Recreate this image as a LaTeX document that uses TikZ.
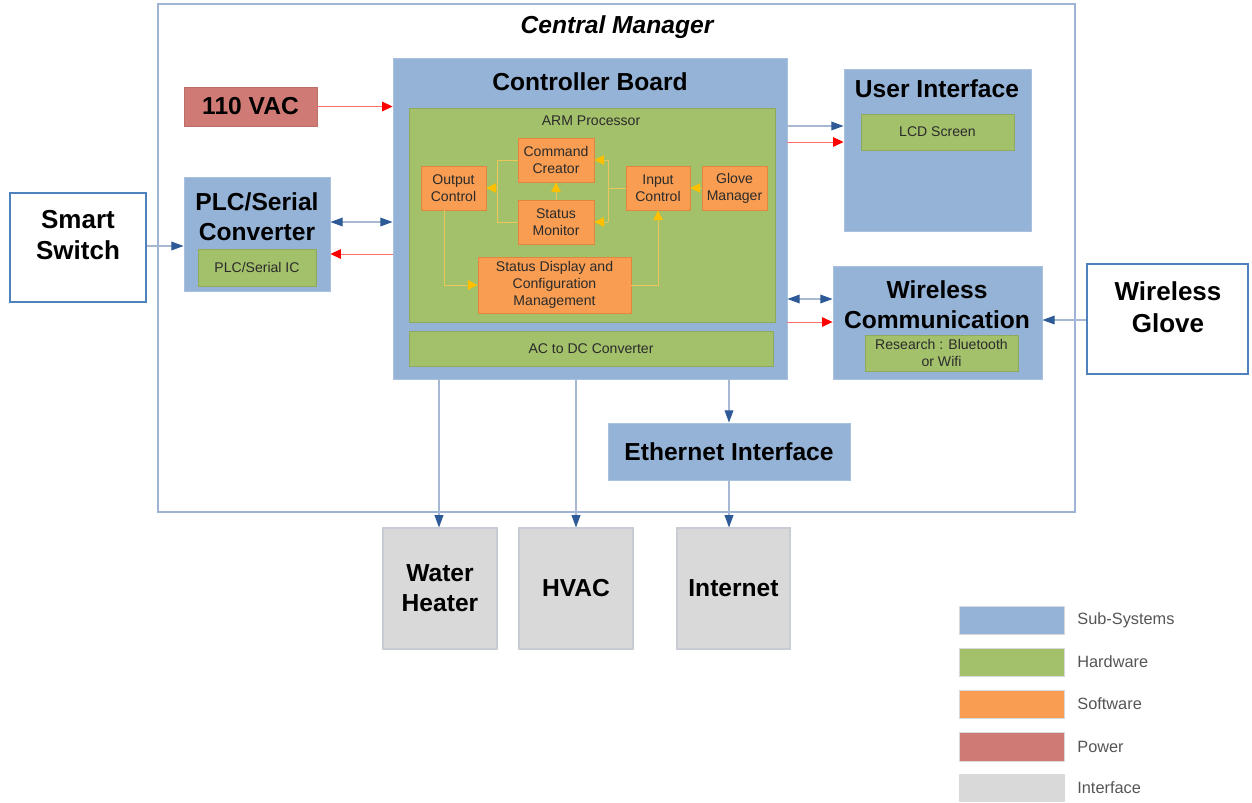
\documentclass[tikz,border=0pt]{standalone}
\usepackage{fontspec}
\setmainfont{Liberation Sans}
\usetikzlibrary{arrows.meta}
\definecolor{subsys}{HTML}{95B3D7}
\definecolor{subsysline}{HTML}{A9C0DE}
\definecolor{hwc}{HTML}{A3C06B}
\definecolor{hwline}{HTML}{8FAA5C}
\definecolor{swc}{HTML}{F89D52}
\definecolor{swline}{HTML}{E0863E}
\definecolor{pwc}{HTML}{D07A76}
\definecolor{ifc}{HTML}{D9D9D9}
\definecolor{ifline}{HTML}{C8CCD4}
\definecolor{extline}{HTML}{4F81BD}
\definecolor{cmline}{HTML}{9FB4D4}
\definecolor{bline}{HTML}{A6B8D2}
\definecolor{bhead}{HTML}{2E5B97}
\definecolor{rline}{HTML}{FF6B6B}
\definecolor{rhead}{HTML}{FF0000}
\definecolor{yline}{HTML}{E9C75A}
\definecolor{yhead}{HTML}{FFC000}
\definecolor{smalltxt}{HTML}{2B2B2B}
\definecolor{legtxt}{HTML}{555555}
\begin{document}
\begin{tikzpicture}[x=0.02cm,y=-0.02cm,
  rect/.style args={#1,#2,#3,#4}{rectangle, inner sep=0pt, minimum width={(#3-#1)*0.02cm}, minimum height={(#4-#2)*0.02cm}, at={({(#1+#3)/2},{(#2+#4)/2})}},
  sub/.style={fill=subsys, draw=subsysline, line width=0.5pt},
  hw/.style={fill=hwc, draw=hwline, line width=0.5pt, align=center, text=smalltxt, font=\fontsize{8}{9.6}\selectfont},
  sw/.style={fill=swc, draw=swline, line width=0.5pt, align=center, text=smalltxt, font=\fontsize{8}{9.6}\selectfont},
  pw/.style={fill=pwc, draw=pwc!90!black, line width=0.4pt, font=\bfseries\fontsize{14}{17}\selectfont},
  ifbox/.style={fill=ifc, draw=ifline, line width=0.6pt, align=center, font=\bfseries\fontsize{14}{17}\selectfont},
  ext/.style={fill=white, draw=extline, line width=1.1pt},
  big/.style={font=\bfseries\fontsize{14}{17}\selectfont, align=center, inner sep=0pt},
  extt/.style={font=\bfseries\fontsize{14.8}{18}\selectfont, align=center, inner sep=0pt},
  small/.style={font=\fontsize{8}{9.6}\selectfont, text=smalltxt, inner sep=0pt},
  bluearr/.style={draw=bline, line width=0.6pt, -{Triangle[length=7pt,width=5pt,color=bhead]}},
  bluedbl/.style={draw=bline, line width=0.6pt, {Triangle[length=7pt,width=5pt,color=bhead]}-{Triangle[length=7pt,width=5pt,color=bhead]}},
  redarr/.style={draw=rline, line width=0.5pt, -{Triangle[length=6pt,width=5.5pt,color=rhead]}},
  yl/.style={draw=yline, line width=0.5pt},
  yelarr/.style={draw=yline, line width=0.5pt, -{Triangle[length=5.5pt,width=5.5pt,color=yhead]}},
  legbox/.style={draw=white!85!black, line width=0.4pt},
  legtext/.style={font=\fontsize{9.3}{11}\selectfont, text=legtxt, anchor=west, inner sep=0pt}
]
\useasboundingbox (0,0) rectangle (1252,802);

% Central Manager
\node[draw=cmline, line width=1.1pt, rect={158,4,1075,512}] (CM) {};
\node[big] (CMt) at (617,27) {\itshape Central Manager};

% Controller board
\node[sub, rect={393,58,787,379}] (CB) {};
\node[big] (CBt) at (590,82) {Controller Board};
\node[hw, rect={409,108,775,322}] (ARM) {};
\node[small] (ARMt) at (591,121) {ARM Processor};
\node[hw, rect={409,331,773,366}] (ACDC) {AC to DC Converter};

% software blocks
\node[sw, rect={518,138,594,182}] (CC) {Command\\Creator};
\node[sw, rect={421,166,486,210}] (OC) {Output\\Control};
\node[sw, rect={518,200,594,244}] (SM) {Status\\Monitor};
\node[sw, rect={626,166,690,210}] (IC) {Input\\Control};
\node[sw, rect={702,166,767,210}] (GM) {Glove\\Manager};
\node[sw, rect={478,257,631,313}] (SD) {Status Display and\\Configuration\\Management};

% software connectors
\coordinate (fr) at (608,188);
\coordinate (frT) at (608,160);
\coordinate (frB) at (608,222);
\coordinate (fl) at (497,188);
\coordinate (flT) at (497,160);
\coordinate (flB) at (497,222);
\coordinate (ocb) at (444,210);
\coordinate (ocd) at (444,285);
\coordinate (sdr) at (658,285);
\draw[yelarr] (GM.west) -- (IC.east);
\draw[yl] (IC.west) -- (fr);
\draw[yl] (frT) -- (frB);
\draw[yelarr] (frT) -- (CC.east);
\draw[yelarr] (frB) -- (SM.east);
\draw[yelarr] (SM.north) -- (CC.south);
\draw[yl] (CC.west) -- (flT) -- (flB) -- (SM.west);
\draw[yelarr] (fl) -- (OC.east);
\draw[yelarr] (ocb) -- (ocd) -- (SD.west);
\draw[yelarr] (SD.east) -- (sdr) -- (IC.south);

% power
\node[pw, rect={184,87,317,126}] (VAC) {110 VAC};
\draw[redarr] (VAC.east) -- (VAC.east -| CB.west);

% PLC
\node[sub, rect={184,177,330,291}] (PLC) {};
\node[big] (PLCt) at (257,217) {PLC/Serial\\Converter};
\node[hw, rect={198,249,316,286}] (PLCic) {PLC/Serial IC};
\draw[bluedbl] (PLC.east |- 0,222) -- (CB.west |- 0,222);
\draw[redarr] (CB.west |- 0,254) -- (PLC.east |- 0,254);

% Smart switch
\node[ext, rect={10,193,146,302}] (SS) {};
\node[extt] (SSt) at (78,235) {Smart\\Switch};
\draw[bluearr] (SS.east |- 0,246) -- (PLC.west |- 0,246);

% User interface
\node[sub, rect={844,69,1031,231}] (UI) {};
\node[big] (UIt) at (937,89) {User Interface};
\node[hw, rect={861,114,1014,150}] (LCD) {LCD Screen};
\draw[bluearr] (CB.east |- 0,126) -- (UI.west |- 0,126);
\draw[redarr] (CB.east |- 0,142) -- (UI.west |- 0,142);

% Wireless communication
\node[sub, rect={833,266,1042,379}] (WC) {};
\node[big] (WCt) at (937,305) {Wireless\\Communication};
\node[hw, rect={865,335,1018,371}] (BT) {Research : Bluetooth\\or Wifi};
\draw[bluedbl] (CB.east |- 0,299) -- (WC.west |- 0,299);
\draw[redarr] (CB.east |- 0,322) -- (WC.west |- 0,322);

% Wireless glove
\node[ext, rect={1087,264,1248,374}] (WG) {};
\node[extt] (WGt) at (1168,307) {Wireless\\Glove};
\draw[bluearr] (WG.west |- 0,320) -- (WC.east |- 0,320);

% Ethernet
\node[sub, big, rect={608,423,850,480}] (ETH) {Ethernet Interface};
\draw[bluearr] (CB.south -| 729,0) -- (ETH.north -| 729,0);

% Interfaces
\node[ifbox, rect={383,528,497,649}] (WH) {Water\\Heater};
\node[ifbox, rect={519,528,633,649}] (HV) {HVAC};
\node[ifbox, rect={677,528,790,649}] (INT) {Internet};
\draw[bluearr] (CB.south -| 439,0) -- (WH.north -| 439,0);
\draw[bluearr] (CB.south -| 576,0) -- (HV.north -| 576,0);
\draw[bluearr] (ETH.south -| 729,0) -- (INT.north -| 729,0);

% Legend
\node[legbox, fill=subsys, rect={959,606,1064,634}] (L1) {};
\node[legbox, fill=hwc, rect={959,648,1064,676}] (L2) {};
\node[legbox, fill=swc, rect={959,690,1064,718}] (L3) {};
\node[legbox, fill=pwc, rect={959,732,1064,761}] (L4) {};
\node[legbox, fill=ifc, rect={959,774,1064,801}] (L5) {};
\node[legtext] (L1t) at (1077,620) {Sub-Systems};
\node[legtext] (L2t) at (1077,662) {Hardware};
\node[legtext] (L3t) at (1077,704) {Software};
\node[legtext] (L4t) at (1077,747) {Power};
\node[legtext] (L5t) at (1077,788) {Interface};
\end{tikzpicture}
\end{document}
